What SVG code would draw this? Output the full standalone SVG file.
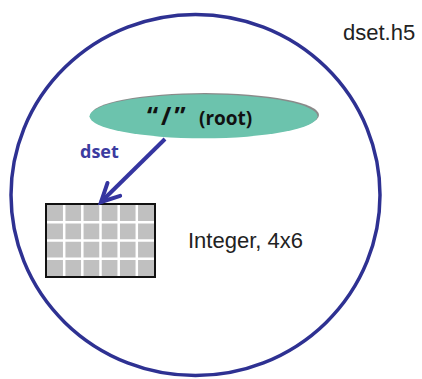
<svg xmlns="http://www.w3.org/2000/svg" width="422" height="379" viewBox="0 0 422 379">
<style>
  .lbl { font-family: "Liberation Sans", Arial, sans-serif; font-size: 22px; fill: #222; }
  .bold { font-family: "Open Sans", "Liberation Sans", sans-serif; font-weight: bold; }
  .grid line { stroke: #fff; stroke-width: 2.5; }
</style>
<defs>
  <marker id="arr" markerUnits="userSpaceOnUse" markerWidth="24" markerHeight="24" refX="20" refY="10" orient="auto" viewBox="0 0 24 20">
    <path d="M2,1 L20,10 L2,19" fill="none" stroke="#3535a0" stroke-width="4" stroke-linecap="round" stroke-linejoin="miter"/>
  </marker>
</defs>
<rect width="422" height="379" fill="#fff"/>
<g id="file">
  <ellipse cx="195.5" cy="195" rx="184.5" ry="180.5" fill="none" stroke="#2e3192" stroke-width="3.5"/>
  <text class="lbl" x="343" y="40">dset.h5</text>
</g>
<g id="root">
  <ellipse cx="205" cy="115" rx="114" ry="22" fill="#8a8a8a"/>
  <ellipse cx="203.5" cy="116.3" rx="114" ry="22" fill="#6cc3ad"/>
  <text class="bold" y="125" fill="#111"><tspan x="147" font-size="25" letter-spacing="3">“/”</tspan><tspan x="199" font-size="19">(root)</tspan></text>
</g>
<g id="dataset">
  <rect x="46" y="204" width="109" height="73" fill="#c0c0c0"/>
  <g class="grid">
    <line x1="64.2" y1="204" x2="64.2" y2="277"/>
    <line x1="82.3" y1="204" x2="82.3" y2="277"/>
    <line x1="100.5" y1="204" x2="100.5" y2="277"/>
    <line x1="118.7" y1="204" x2="118.7" y2="277"/>
    <line x1="136.8" y1="204" x2="136.8" y2="277"/>
    <line x1="46" y1="222.3" x2="155" y2="222.3"/>
    <line x1="46" y1="240.5" x2="155" y2="240.5"/>
    <line x1="46" y1="258.8" x2="155" y2="258.8"/>
  </g>
  <rect x="46" y="204" width="109" height="73" fill="none" stroke="#111" stroke-width="2"/>
  <text class="lbl" x="188" y="248">Integer, 4x6</text>
</g>
<g id="connectors">
  <line x1="165" y1="139" x2="101" y2="202" stroke="#3535a0" stroke-width="4" marker-end="url(#arr)"/>
  <text class="bold" x="80" y="158" font-size="18" fill="#3b3ba0">dset</text>
</g>
</svg>
